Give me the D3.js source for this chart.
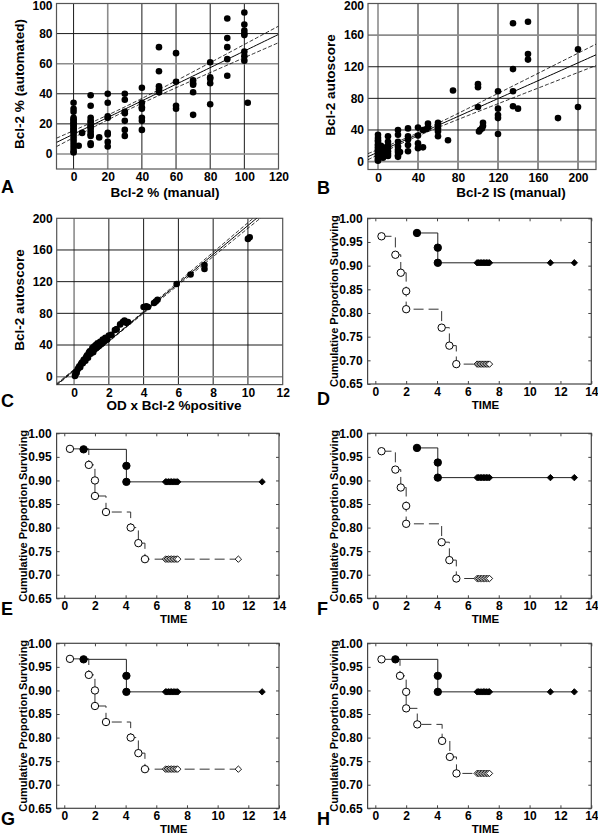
<!DOCTYPE html>
<html><head><meta charset="utf-8">
<script src="https://cdn.jsdelivr.net/npm/d3@7"></script>
<style>
body{margin:0;background:#fff}
svg{display:block;font-family:"Liberation Sans",Arial,sans-serif;font-weight:bold}
</style>
</head><body><script>
// ---------------- DATA ----------------
// Panel A: Bcl-2 % manual vs automated
const aManual = [0,0,0,0,0,0,0,0,0,0,0,0,0,0,0,0,0,0,0,0,0, 3,5,15,
  10,10,10,10,10,10,10,10,10,10,10,10,10,
  20,20,20,20,20,20,20,20, 30,30,30,30,30,30,30, 40,40,40,40,40,40,40,
  50,50,50,50,50, 60,60,60,60, 70,70,70,70,70, 80,80,80,80,80,
  90,90,90,90,90, 100,100,100,100,100,100,100,100, 102];
const aAuto = [34,30,28,24,23,22,21,20,19,18,17,16,15,14,12,10,8,6,4,2,1, 5.5,14,11,
  39,32,24,22,21,19,18,17,15,13,12,7,6,
  40,34,25,24,14,13,8,5, 40,36,28,27,22,16,12, 44,34,31,30,24,22,16,
  71,55,45,43,41, 67,48,32,30, 49,47,46,41,26, 61,51,50,47,33,
  90,77,71,63,52, 94,86,82,80,79,68,65,62, 34];
const aFit = [13.2, 0.552];          // intercept, slope
const aBand = [1.5, 0.0588, 30];     // min half-width, growth, centre

// Panel B: Bcl-2 IS manual vs autoscore
const bManual = [0,0,0,0,0,0,0,0,0,0,0,0,0,0,0,0,
  3,5,5,8,10,10,10,10,10,10,10,8,5,3,
  20,20,20,20,20,20,20,20,22, 30,30,30,30,30, 40,40,40,40,45,45,50,50,48,
  60,60,60,60,60, 70,75, 100,100,100,101,102, 105,105,104,
  120,120,120,120,120, 135,135,135,135,140, 150,150,150, 180,200,200];
const bAuto = [34,30,27,25,22,20,18,16,14,12,10,8,6,4,2,1,
  12,10,15,8,32,25,20,17,13,10,7,18,5,20,
  40,34,25,19,15,12,8,6,12, 42,32,28,21,13, 43,33,23,17,18,40,48,43,41,
  49,46,42,38,32, 27,90, 98,94,69,38,40, 49,45,42,
  89,67,59,55,35, 175,117,89,70,67, 177,136,129, 55,142,69];
const bFit = [11.9, 0.565];
const bBand = [2, 0.073, 35];

// Panel C: OD x Bcl-2 %positive vs autoscore
const cOD = [0.05,0.08,0.1,0.15,0.2,0.25,0.3,0.35,0.4,0.45,0.5,0.55,0.6,0.65,0.7,0.75,0.8,0.85,
  0.9,0.95,1.0,1.05,1.1,1.15,1.2,1.25,1.3,1.35,1.45,1.5,1.6,1.65,1.75,1.8,1.9,2.0,2.15,2.35,2.45,
  2.65,2.8,2.9,3.0,3.1, 4.0,4.15,4.25,4.6,4.7,4.8, 5.9,6.7,7.5,7.5,10.0,10.1];
const cAuto = [1,3,6,5,9,11,13,12,16,18,17,21,22,20,25,27,24,30,
  32,29,33,36,31,38,35,40,37,42,39,44,42,47,45,49,47,52,53,59,60,
  66,69,71,68,69, 88,89,88,93,95,97, 117,129,141,136,174,176];
const cFit = [8.3, 18.26];
const cBand = [0.6, 0.41, 1.5];

// Survival panels (time, cumulative proportion surviving)
const dFilledT = [2.7,4.05,4.05],  dFilledS = [0.969,0.938,0.906];
const dFilledCens = [6.6,6.7,6.8,6.9,7.0,7.1,7.2,7.3,7.4,11.35,12.9];
const dOpenT = [0.4,1.3,1.65,2.0,2.0,4.3,4.8,5.25];
const dOpenS = [0.962,0.923,0.885,0.846,0.808,0.769,0.731,0.692];
const dOpenCens = [6.6,6.7,6.8,6.9,7.0,7.1,7.2,7.3,7.4];

const eFilledT = [1.26,4.05,4.05], eFilledS = [0.966,0.931,0.897];
const eFilledCens = [6.6,6.7,6.8,6.9,7.0,7.1,7.2,7.3,7.4,12.9];
const eOpenT = [0.37,1.6,2.0,2.0,2.72,4.33,4.83,5.26];
const eOpenS = [0.967,0.933,0.9,0.867,0.833,0.8,0.767,0.733];
const eOpenCens = [6.6,6.7,6.8,6.9,7.0,7.1,7.2,7.3,7.4,11.35];

const hFilledT = [1.3,4.05,4.05], hFilledS = [0.966,0.931,0.897];
const hFilledCens = [6.6,6.7,6.8,6.9,7.0,7.1,7.2,7.3,7.4,11.35,12.9];
const hOpenT = [0.4,1.6,2.0,2.0,2.72,4.33,4.83,5.26];
const hOpenS = [0.966,0.931,0.897,0.862,0.828,0.793,0.759,0.724];
const hOpenCens = [6.6,6.7,6.8,6.9,7.0,7.1,7.2,7.3,7.4];

const survXTicks = [0,2,4,6,8,10,12,14];
const survYTicks = [0.65,0.70,0.75,0.80,0.85,0.90,0.95,1.00];

// ---------------- DRAWING ----------------
const svg = d3.select("body").append("svg").attr("width",598).attr("height",834);
const defs = svg.append("defs");

function styleAxisText(g, size){
  g.selectAll("text").attr("font-size",size).attr("font-family","Liberation Sans, Arial, sans-serif")
   .attr("font-weight","bold").attr("fill","#000");
  g.select(".domain").remove();
}

function scatterPanel(o){
  const x = d3.scaleLinear().domain(o.xDom).range([o.left,o.right]);
  const y = d3.scaleLinear().domain(o.yDom).range([o.bottom,o.top]);
  const g = svg.append("g");
  const clipId = "clip"+o.letter;
  defs.append("clipPath").attr("id",clipId).append("rect")
    .attr("x",o.left).attr("y",o.top).attr("width",o.right-o.left).attr("height",o.bottom-o.top);

  // grid
  g.selectAll("line.vg").data(o.vGrid).join("line").attr("class","vg")
    .attr("x1",d=>x(d)).attr("x2",d=>x(d)).attr("y1",o.top).attr("y2",o.bottom)
    .attr("stroke",d=>o.greyV.includes(d)?"#8c8c8c":"#1a1a1a")
    .attr("stroke-width",d=>o.greyV.includes(d)?1.6:1);
  g.selectAll("line.hg").data(o.hGrid).join("line").attr("class","hg")
    .attr("y1",d=>y(d)).attr("y2",d=>y(d)).attr("x1",o.left).attr("x2",o.right)
    .attr("stroke",d=>o.greyH.includes(d)?"#8c8c8c":"#1a1a1a")
    .attr("stroke-width",d=>o.greyH.includes(d)?1.6:1);
  g.append("rect").attr("x",o.left).attr("y",o.top).attr("width",o.right-o.left)
    .attr("height",o.bottom-o.top).attr("fill","none").attr("stroke","#555").attr("stroke-width",1.2);

  // axes labels
  const ax = g.append("g").attr("transform",`translate(0,${o.bottom})`)
    .call(d3.axisBottom(x).tickValues(o.xTicks).tickSize(0).tickPadding(3.5).tickFormat(d3.format("d")));
  styleAxisText(ax,12);
  const ay = g.append("g").attr("transform",`translate(${o.left},0)`)
    .call(d3.axisLeft(y).tickValues(o.yTicks).tickSize(0).tickPadding(4).tickFormat(d3.format("d")));
  styleAxisText(ay,12);
  // keep the top tick label inside the page
  ay.selectAll(".tick").filter(d=>y(d)<8).select("text").attr("y",9-y(o.yTicks[o.yTicks.length-1])).attr("dy",0);

  // regression line + confidence band
  const pl = g.append("g").attr("clip-path",`url(#${clipId})`);
  const xs = d3.range(o.xDom[0], o.xDom[1]+1e-9, (o.xDom[1]-o.xDom[0])/80);
  const fit = v => o.fit[0] + o.fit[1]*v;
  const hw = v => Math.sqrt(o.band[0]*o.band[0] + Math.pow(o.band[1]*(v-o.band[2]),2));
  const line = d3.line().x(d=>x(d[0])).y(d=>y(d[1]));
  pl.append("path").attr("d",line(xs.map(v=>[v,fit(v)+hw(v)]))).attr("fill","none")
    .attr("stroke","#000").attr("stroke-width",0.8).attr("stroke-dasharray","4,2");
  pl.append("path").attr("d",line(xs.map(v=>[v,fit(v)-hw(v)]))).attr("fill","none")
    .attr("stroke","#000").attr("stroke-width",0.8).attr("stroke-dasharray","4,2");
  pl.append("path").attr("d",line(xs.map(v=>[v,fit(v)]))).attr("fill","none")
    .attr("stroke","#000").attr("stroke-width",1);

  // points
  g.append("g").selectAll("circle").data(o.xv.map((v,i)=>[v,o.yv[i]])).join("circle")
    .attr("cx",d=>x(d[0])).attr("cy",d=>y(d[1])).attr("r",3.3).attr("fill","#000");

  // titles
  g.append("text").attr("x",o.xTitleX).attr("y",o.xTitleY).attr("text-anchor","middle")
    .attr("font-size",13.5).text(o.xTitle);
  g.append("text").attr("transform",`translate(${o.left-33},${o.yTitleY}) rotate(-90)`)
    .attr("text-anchor","middle").attr("font-size",13.5).text(o.yTitle);
  g.append("text").attr("x",o.letterX).attr("y",o.letterY).attr("font-size",18).text(o.letter);
}

function survPanel(o){
  const x = d3.scaleLinear().domain([-0.5,14]).range([o.left,o.right]);
  const y = d3.scaleLinear().domain([0.65,1.0]).range([o.bottom,o.top]);
  const g = svg.append("g");
  g.append("rect").attr("x",o.left).attr("y",o.top).attr("width",o.right-o.left)
    .attr("height",o.bottom-o.top).attr("fill","none").attr("stroke","#444").attr("stroke-width",1.2);

  const ab = g.append("g").attr("transform",`translate(0,${o.bottom})`)
    .call(d3.axisBottom(x).tickValues(survXTicks).tickSize(-3).tickPadding(3).tickFormat(d3.format("d")));
  styleAxisText(ab,12); ab.selectAll("line").attr("stroke","#444");
  const at = g.append("g").attr("transform",`translate(0,${o.top})`)
    .call(d3.axisTop(x).tickValues(survXTicks).tickSize(-3).tickFormat(""));
  at.select(".domain").remove(); at.selectAll("line").attr("stroke","#444");
  const al = g.append("g").attr("transform",`translate(${o.left},0)`)
    .call(d3.axisLeft(y).tickValues(survYTicks).tickSize(-3).tickPadding(5).tickFormat(d3.format(".2f")));
  styleAxisText(al,12); al.selectAll("line").attr("stroke","#444");
  const ar = g.append("g").attr("transform",`translate(${o.right},0)`)
    .call(d3.axisRight(y).tickValues(survYTicks).tickSize(-3).tickFormat(""));
  ar.select(".domain").remove(); ar.selectAll("line").attr("stroke","#444");

  const step = d3.line().x(d=>x(d[0])).y(d=>y(d[1])).curve(d3.curveStepAfter);
  const diamond = "M0,-3.2L3.2,0L0,3.2L-3.2,0Z";

  function group(T,S,C,filled){
    const last = S[S.length-1];
    const pts = T.map((t,i)=>[t,S[i]]);
    pts.push([d3.max(C),last]);
    g.append("path").attr("d",step(pts)).attr("fill","none")
      .attr("stroke",filled?"#222":"#333").attr("stroke-width",1)
      .attr("stroke-dasharray",filled?null:"10,5");
    g.append("g").selectAll("path").data(C).join("path")
      .attr("d",diamond).attr("transform",d=>`translate(${x(d)},${y(last)})`)
      .attr("fill",filled?"#000":"#fff").attr("stroke","#000").attr("stroke-width",0.9);
    g.append("g").selectAll("circle").data(T.map((t,i)=>[t,S[i]])).join("circle")
      .attr("cx",d=>x(d[0])).attr("cy",d=>y(d[1])).attr("r",3.7)
      .attr("fill",filled?"#000":"#fff").attr("stroke","#000").attr("stroke-width",1);
  }
  group(o.openT,o.openS,o.openC,false);
  group(o.filledT,o.filledS,o.filledC,true);

  g.append("text").attr("x",(o.left+o.right)/2+6).attr("y",Math.min(o.bottom+25,833.2))
    .attr("text-anchor","middle").attr("font-size",11.5).text("TIME");
  g.append("text").attr("transform",`translate(${o.left-30},${(o.top+o.bottom)/2}) rotate(-90)`)
    .attr("text-anchor","middle").attr("font-size",11).text("Cumulative Proportion Surviving");
  g.append("text").attr("x",o.letterX).attr("y",o.letterY).attr("font-size",18).text(o.letter);
}

scatterPanel({letter:"A", left:56.5,right:278.5,top:3.5,bottom:169, xDom:[-10,120], yDom:[-10,100],
  xTicks:[0,20,40,60,80,100,120], yTicks:[0,20,40,60,80,100],
  vGrid:[0,20,40,60,80,100], hGrid:[0,20,40,60,80], greyV:[20], greyH:[0,60],
  xv:aManual, yv:aAuto, fit:aFit, band:aBand,
  xTitle:"Bcl-2 % (manual)", xTitleX:165, xTitleY:197,
  yTitle:"Bcl-2 % (automated)", yTitleY:84, letterX:1, letterY:193});

scatterPanel({letter:"B", left:368,right:596,top:3.5,bottom:169.5, xDom:[-10,218], yDom:[-10,200],
  xTicks:[0,40,80,120,160,200], yTicks:[0,40,80,120,160,200],
  vGrid:[0,40,80,120,160,200], hGrid:[0,40,80,120,160], greyV:[0], greyH:[0,160],
  xv:bManual, yv:bAuto, fit:bFit, band:bBand,
  xTitle:"Bcl-2 IS (manual)", xTitleX:511, xTitleY:197,
  yTitle:"Bcl-2 autoscore", yTitleY:85, letterX:317, letterY:194});

scatterPanel({letter:"C", left:56.7,right:282.7,top:218.3,bottom:384.6, xDom:[-1,12], yDom:[-10,200],
  xTicks:[0,2,4,6,8,10,12], yTicks:[0,40,80,120,160,200],
  vGrid:[0,2,4,6,8,10], hGrid:[0,40,80,120,160], greyV:[0], greyH:[0],
  xv:cOD, yv:cAuto, fit:cFit, band:cBand,
  xTitle:"OD x Bcl-2 %positive", xTitleX:174, xTitleY:410,
  yTitle:"Bcl-2 autoscore", yTitleY:300, letterX:1, letterY:407});

survPanel({letter:"D", left:367.6,right:591.3,top:218.3,bottom:384, letterX:317, letterY:405,
  filledT:dFilledT, filledS:dFilledS, filledC:dFilledCens, openT:dOpenT, openS:dOpenS, openC:dOpenCens});
survPanel({letter:"E", left:56.6,right:279,top:433.3,bottom:598.3, letterX:1, letterY:615,
  filledT:eFilledT, filledS:eFilledS, filledC:eFilledCens, openT:eOpenT, openS:eOpenS, openC:eOpenCens});
survPanel({letter:"F", left:367.6,right:591.3,top:433.3,bottom:598.3, letterX:317, letterY:615,
  filledT:dFilledT, filledS:dFilledS, filledC:dFilledCens, openT:dOpenT, openS:dOpenS, openC:dOpenCens});
survPanel({letter:"G", left:56.6,right:279,top:643.3,bottom:808.3, letterX:1, letterY:825,
  filledT:eFilledT, filledS:eFilledS, filledC:eFilledCens, openT:eOpenT, openS:eOpenS, openC:eOpenCens});
survPanel({letter:"H", left:367.6,right:591.3,top:643.3,bottom:808.3, letterX:317, letterY:825,
  filledT:hFilledT, filledS:hFilledS, filledC:hFilledCens, openT:hOpenT, openS:hOpenS, openC:hOpenCens});
</script></body></html>
